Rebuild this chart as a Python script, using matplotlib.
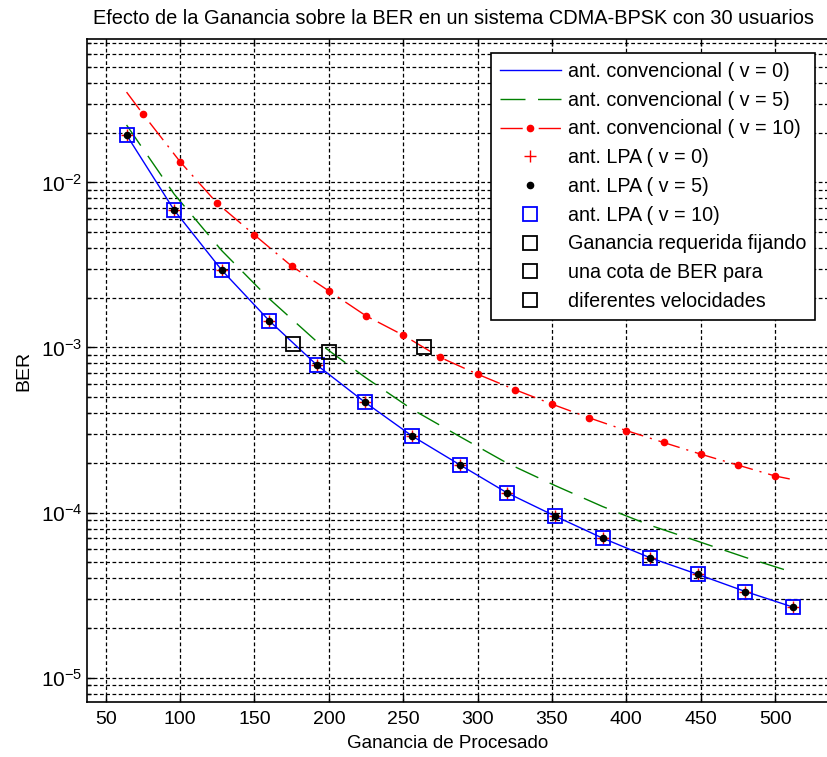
import matplotlib
matplotlib.use('Agg')
import matplotlib.pyplot as plt
from matplotlib.ticker import LogLocator, NullFormatter, FixedLocator

plt.rcParams['font.family'] = ['Liberation Sans', 'DejaVu Sans']
plt.rcParams['font.size'] = 14
plt.rcParams['mathtext.default'] = 'regular'

# ganancia de procesado evaluada
ganancia = [64, 96, 128, 160, 192, 224, 256, 288, 320, 352, 384, 416, 448, 480, 512]

# BER con antena convencional
ber_conv_v0 = [0.01935, 6.79e-3, 2.94e-3, 1.45e-3, 7.82e-4, 4.68e-4, 2.91e-4, 1.95e-4,
               1.315e-4, 9.54e-5, 7.01e-5, 5.33e-5, 4.23e-5, 3.33e-5, 2.68e-5]
ber_conv_v5 = [0.02225, 8.49e-3, 3.86e-3, 1.97e-3, 1.084e-3, 6.64e-4, 4.22e-4, 2.89e-4,
               1.99e-4, 1.46e-4, 1.089e-4, 8.38e-5, 6.71e-5, 5.36e-5, 4.35e-5]
ganancia_v10 = [64, 75, 100, 125, 150, 175, 200, 225, 250, 275, 300, 325, 350, 375,
                400, 425, 450, 475, 500, 512]
ber_conv_v10 = [0.0352, 0.02594, 0.01333, 7.46e-3, 4.80e-3, 3.11e-3, 2.20e-3, 1.554e-3,
                1.187e-3, 8.70e-4, 6.89e-4, 5.56e-4, 4.54e-4, 3.75e-4, 3.14e-4, 2.66e-4,
                2.26e-4, 1.94e-4, 1.667e-4, 1.585e-4]

# con antena LPA la BER no depende de la velocidad
ber_lpa = ber_conv_v0

# ganancia necesaria para BER = 1e-3
cota_ganancia = [176, 200, 264]
cota_ber = [1.05e-3, 0.94e-3, 1.0e-3]
cota_texto = ['Ganancia requerida fijando', 'una cota de BER para', 'diferentes velocidades']

fig = plt.figure(figsize=(8.28, 7.57), dpi=100)
ax = fig.add_axes([0.1047, 0.0722, 0.9038, 0.8759])

ax.plot(ganancia, ber_conv_v0, '-', color='blue', lw=1.0, label='ant. convencional ( v = 0)')
ax.plot(ganancia, ber_conv_v5, '--', color='#008000', lw=1.0, dashes=(18, 9),
        label='ant. convencional ( v = 5)')
ax.plot(ganancia_v10, ber_conv_v10, '-.', color='red', lw=1.0, dashes=(16, 5, 1.5, 5),
        marker='o', ms=4.5, mec='red', mfc='red', markevery=slice(1, -1),
        label='ant. convencional ( v = 10)')
ax.plot(ganancia, ber_lpa, '+', color='red', ms=8, mew=1.0, label='ant. LPA ( v = 0)')
ax.plot(ganancia, ber_lpa, 'o', color='black', ms=4.5, label='ant. LPA ( v = 5)')
ax.plot(ganancia, ber_lpa, 's', mfc='none', mec='blue', ms=9.5, mew=1.3, label='ant. LPA ( v = 10)')
for g, b, t in zip(cota_ganancia, cota_ber, cota_texto):
    ax.plot([g], [b], 's', mfc='none', mec='black', ms=9.5, mew=1.3, label=t)

ax.set_yscale('log')
ax.set_xlim(37.2, 540.3)
ax.set_ylim(7.1e-6, 0.0735)
ax.xaxis.set_major_locator(FixedLocator(range(50, 501, 50)))
ax.yaxis.set_major_locator(LogLocator(base=10))
ax.yaxis.set_minor_locator(LogLocator(base=10, subs=range(2, 10)))
ax.yaxis.set_minor_formatter(NullFormatter())

ax.grid(True, which='major', color='black', linestyle=(0, (3, 2)), lw=0.9)
ax.grid(True, which='minor', axis='y', color='black', linestyle=(0, (3, 2)), lw=0.9)
ax.tick_params(which='both', direction='in', top=True, right=True, width=1)
ax.tick_params(which='major', length=5)
ax.tick_params(which='minor', length=3)
ax.tick_params(axis='x', pad=6)
ax.tick_params(axis='y', pad=3, labelsize=15)
for s in ax.spines.values():
    s.set_linewidth(1.2)

ax.set_title('Efecto de la Ganancia sobre la BER en un sistema CDMA-BPSK con 30 usuarios',
             x=0.4895, pad=11, fontsize=14.4)
ax.set_xlabel('Ganancia de Procesado', fontsize=13.5)
ax.xaxis.set_label_coords(0.4828, -0.05)
ax.set_ylabel('BER', fontsize=14)
ax.yaxis.set_label_coords(-0.073, 0.5)

leg = ax.legend(loc='upper left', bbox_to_anchor=(0.5403, 0.9793), borderaxespad=0,
                fancybox=False, framealpha=1, edgecolor='black', numpoints=1, fontsize=14.2,
                handlelength=3.1, handletextpad=0.35, labelspacing=0.495, borderpad=0.45)
leg.get_frame().set_linewidth(1.2)

fig.savefig('out.png', dpi=100)
